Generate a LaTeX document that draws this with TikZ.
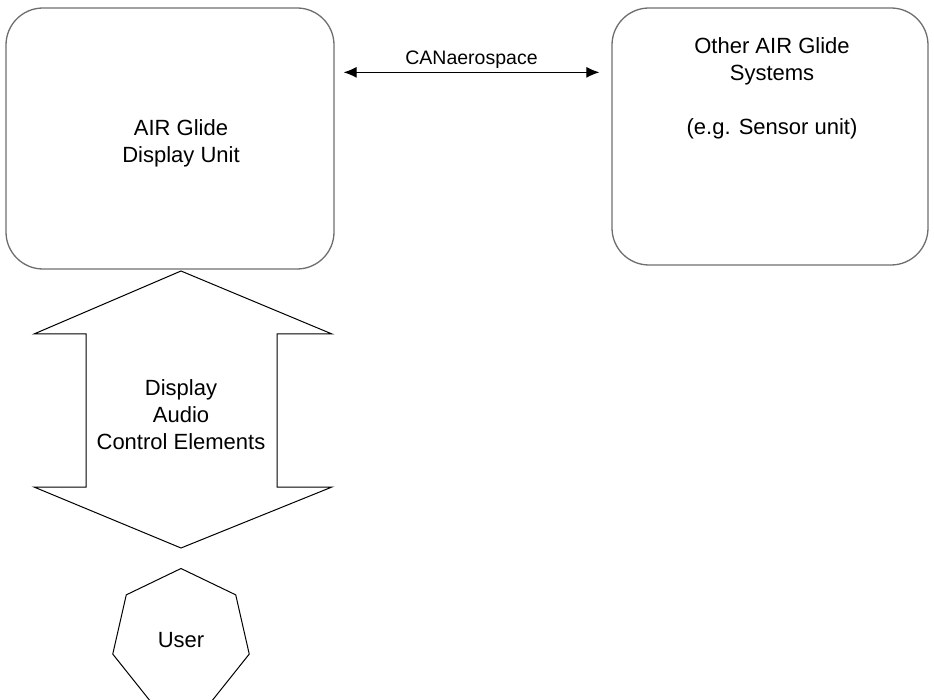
\documentclass[tikz,border=0pt]{standalone}
\usepackage{fontspec}
\setmainfont{Liberation Sans}
\usetikzlibrary{arrows.meta,shapes.geometric}
\definecolor{boxgray}{HTML}{6E6E6E}
\tikzset{
  unitbox/.style={draw=boxgray, line width=1.3pt, rounded corners=37pt, inner sep=0pt},
  maintext/.style={font=\fontsize{22}{27}\selectfont, align=center, inner sep=0pt},
  cantext/.style={font=\fontsize{19.5}{23}\selectfont, inner sep=0pt},
  canarrow/.style={line width=1pt, {Latex[length=13pt,width=11pt]}-{Latex[length=13pt,width=11pt]}},
  bigarrow/.style={draw=black, line width=1pt, fill=white, line join=miter},
  userpoly/.style={draw=black, line width=1pt, regular polygon, regular polygon sides=7, minimum size=140pt, inner sep=0pt}
}
\begin{document}
\begin{tikzpicture}[x=1pt,y=-1pt]
\useasboundingbox (0,0) rectangle (934,700);
% boxes
\node[unitbox, minimum width=328pt, minimum height=261pt] (lbox) at (170,138.5) {};
\node[maintext] (ltext) at (181,143) {AIR Glide\\Display Unit};
\node[unitbox, minimum width=316pt, minimum height=257pt] (rbox) at (770,136.5) {};
\node[maintext, anchor=north] (rtext) at (772,37) {Other AIR Glide\\Systems\\[27pt](e.g. Sensor unit)};
% CAN arrow
\draw[canarrow] ([xshift=9pt,yshift=-65pt]lbox.north east) -- node[cantext, above=3pt] (can) {CANaerospace} ([xshift=-12pt,yshift=-65pt]rbox.north west);
% double arrow
\draw[bigarrow] (181,271) -- (332,334) -- (277,334) -- (277,487) -- (332,487) -- (181,548) -- (34,487) -- (86,487) -- (86,334) -- (34,334) -- cycle;
\node[maintext] (dtext) at (181,415) {Display\\Audio\\Control Elements};
% user
\node[userpoly] (user) at (181,638.5) {};
\node[maintext] (utext) at (181,640) {User};
\end{tikzpicture}
\end{document}
